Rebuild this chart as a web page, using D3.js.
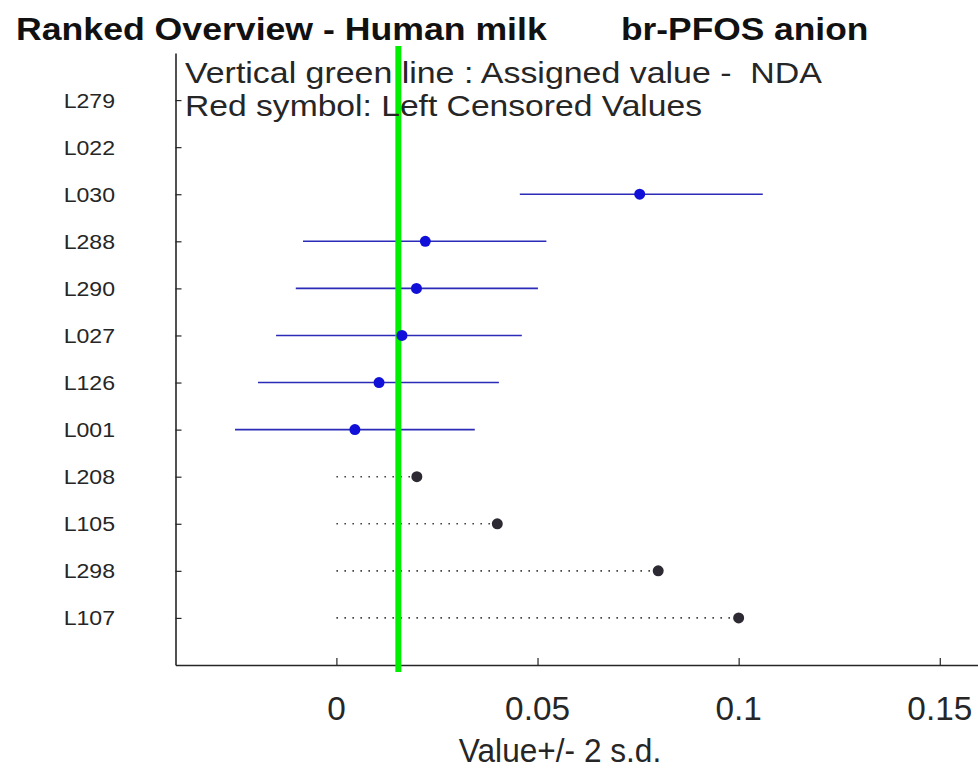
<!DOCTYPE html>
<html>
<head>
<meta charset="utf-8">
<script src="https://cdn.jsdelivr.net/npm/d3@7"></script>
<style>
  html, body { margin: 0; padding: 0; background: #ffffff; }
  svg { display: block; }
  text { font-family: "Liberation Sans", Arial, Helvetica, sans-serif; fill: #262626; white-space: pre; }
</style>
</head>
<body>
<svg id="chart" width="978" height="771"></svg>
<script>
// ---- data ----
const labs = ["L279","L022","L030","L288","L290","L027","L126","L001","L208","L105","L298","L107"];
const values = [null, null, 0.0754, 0.0221, 0.0199, 0.0163, 0.0106, 0.0046, 0.020, 0.040, 0.080, 0.100];
const lower  = [null, null, 0.0456, -0.0083, -0.0101, -0.0150, -0.0195, -0.0252, null, null, null, null];
const upper  = [null, null, 0.1060, 0.0522, 0.0501, 0.0461, 0.0404, 0.0344, null, null, null, null];
const censored = [false, false, false, false, false, false, false, false, true, true, true, true];
const assignedValue = 0.0154;
const xTicks = [0, 0.05, 0.1, 0.15];
const xTickLabels = ["0", "0.05", "0.1", "0.15"];
const titleLeft = "Ranked Overview - Human milk";
const titleRight = "br-PFOS anion";
const legendLines = ["Vertical green line : Assigned value -  NDA", "Red symbol: Left Censored Values"];
const xLabel = "Value+/- 2 s.d.";

// ---- layout ----
const svg = d3.select("#chart");
const x = d3.scaleLinear().domain([-0.04, 0.16]).range([175.5, 980]);
const y = d3.scaleLinear().domain([0, labs.length + 1]).range([53, 665]);
const rows = labs.map((l, i) => ({lab: l, pos: i + 1, v: values[i], lo: lower[i], hi: upper[i], c: censored[i]}));
const axisColor = "#262626";

function stretchedText(g, str, px, py, size, sx, anchor, weight) {
  return g.append("text")
    .attr("transform", `translate(${px},${py}) scale(${sx},1)`)
    .attr("text-anchor", anchor)
    .attr("xml:space", "preserve")
    .style("font-size", size + "px")
    .style("font-weight", weight || "normal")
    .text(str);
}

// axes
const gx = svg.append("g").attr("transform", `translate(0,${y(labs.length + 1)})`)
  .call(d3.axisBottom(x).tickValues(xTicks).tickSize(-7).tickFormat("").tickSizeOuter(0));
const gy = svg.append("g").attr("transform", `translate(${x(-0.04)},0)`)
  .call(d3.axisLeft(y).tickValues(rows.map(r => r.pos)).tickSize(-6).tickFormat("").tickSizeOuter(0));
[gx, gy].forEach(g => {
  g.select(".domain").attr("stroke", axisColor).attr("stroke-width", 1.6);
  g.selectAll(".tick line").attr("stroke", axisColor).attr("stroke-width", 1.2);
});

// x tick labels
xTicks.forEach((t, i) => stretchedText(svg, xTickLabels[i], x(t), 720, 34, 0.98, "middle"));
// y tick labels
rows.forEach(r => stretchedText(svg, r.lab, 115, y(r.pos) + 7.5, 21, 1.1, "end"));
// x label
stretchedText(svg, xLabel, 560, 762, 34, 0.93, "middle");

// error bars
const plot = svg.append("g");
plot.selectAll("line.err").data(rows.filter(r => r.v !== null && !r.c)).enter()
  .append("line").attr("class", "err")
  .attr("x1", d => x(d.lo)).attr("x2", d => x(d.hi))
  .attr("y1", d => y(d.pos)).attr("y2", d => y(d.pos))
  .attr("stroke", "#2b2bb8").attr("stroke-width", 1.6);

// censored dotted lines from 0 to value
plot.selectAll("line.cens").data(rows.filter(r => r.c)).enter()
  .append("line").attr("class", "cens")
  .attr("x1", x(0)).attr("x2", d => x(d.v))
  .attr("y1", d => y(d.pos)).attr("y2", d => y(d.pos))
  .attr("stroke", "#444444").attr("stroke-width", 1.6)
  .attr("stroke-dasharray", "1.6,6.4");

// green assigned value line
svg.append("line")
  .attr("x1", x(assignedValue)).attr("x2", x(assignedValue))
  .attr("y1", y(-0.15)).attr("y2", y(labs.length + 1.15))
  .attr("stroke", "#00ee00").attr("stroke-width", 6);

// markers
const sym = d3.symbol().type(d3.symbolCircle).size(95);
svg.append("g").selectAll("path").data(rows.filter(r => r.v !== null)).enter()
  .append("path")
  .attr("d", sym)
  .attr("transform", d => `translate(${x(d.v)},${y(d.pos)})`)
  .attr("fill", d => d.c ? "#2e2a33" : "#1010d8");

// title
stretchedText(svg, titleLeft, 16, 40, 31, 1.15, "start", "bold").style("fill", "#111");
stretchedText(svg, titleRight, 621, 40, 31, 1.14, "start", "bold").style("fill", "#111");

// legend text
stretchedText(svg, legendLines[0], 185, 83, 29.5, 1.15, "start");
stretchedText(svg, legendLines[1], 185, 116, 29.5, 1.14, "start");
</script>
</body>
</html>
